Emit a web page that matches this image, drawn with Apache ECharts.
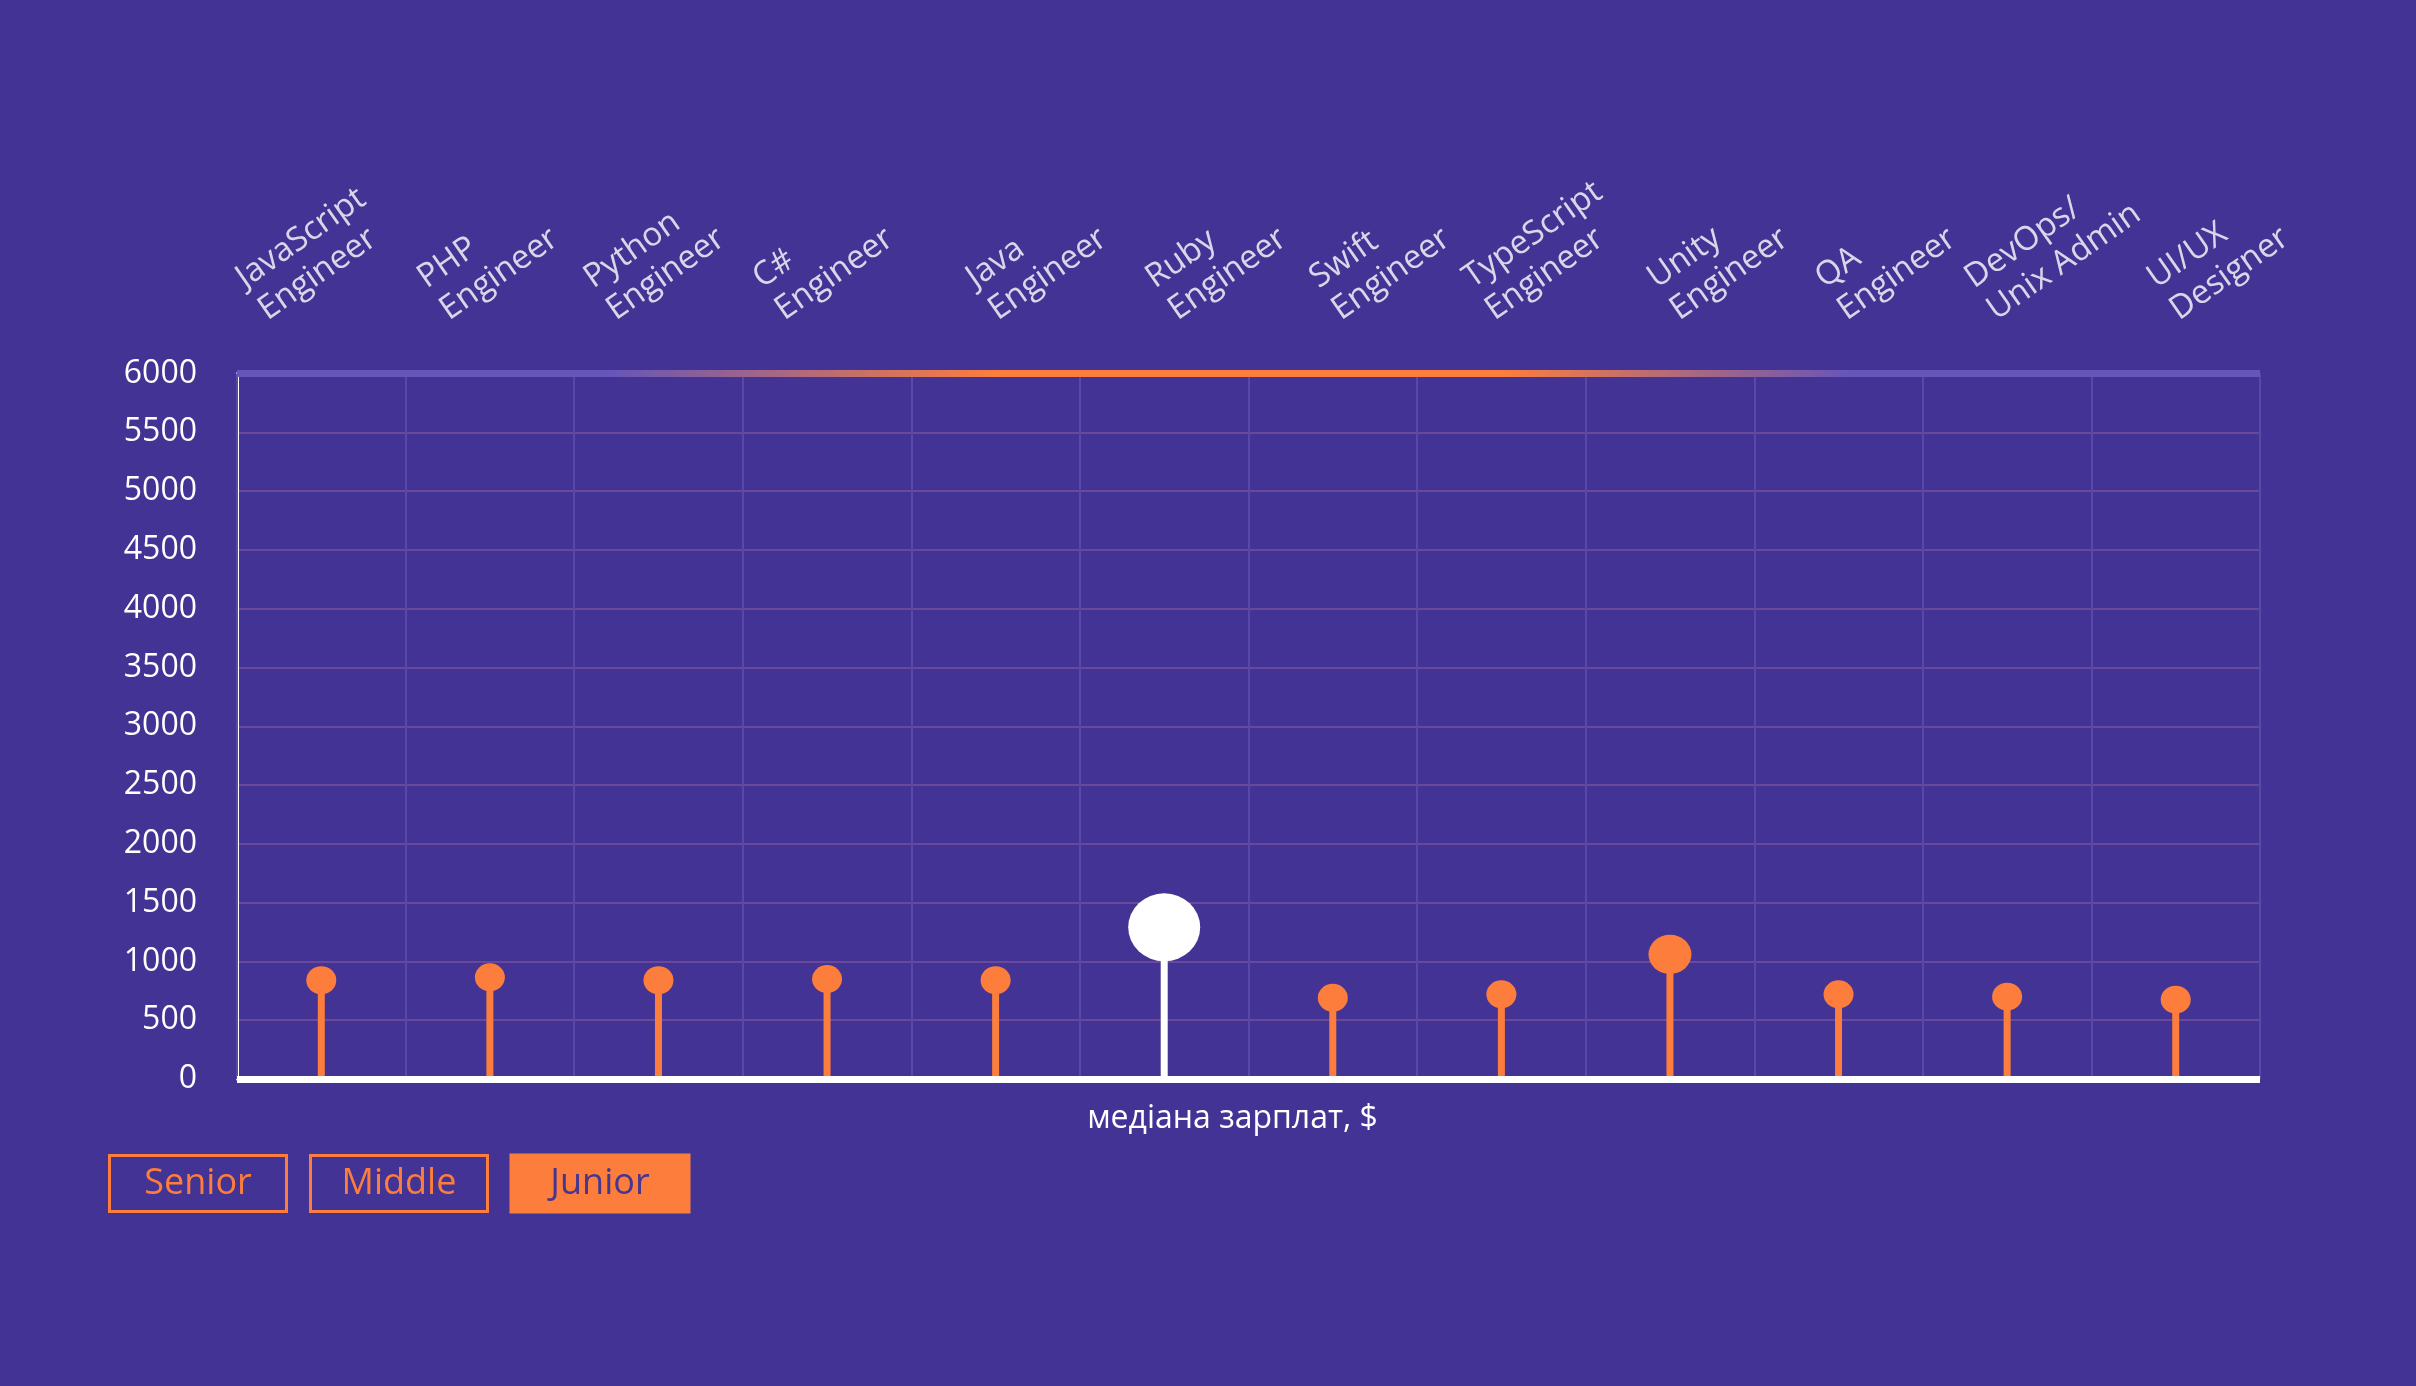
<!DOCTYPE html>
<html>
<head>
<meta charset="utf-8">
<script src="https://cdn.jsdelivr.net/npm/echarts@6/dist/echarts.min.js"></script>
<style>
html,body{margin:0;padding:0;background:#433394;}
#chart{width:2416px;height:1386px;}
</style>
</head>
<body>
<div id="chart"></div>
<script>
// ---- data ----
const categories = [
  'JavaScript\nEngineer', 'PHP\nEngineer', 'Python\nEngineer', 'C#\nEngineer',
  'Java\nEngineer', 'Ruby\nEngineer', 'Swift\nEngineer', 'TypeScript\nEngineer',
  'Unity\nEngineer', 'QA\nEngineer', 'DevOps/\nUnix Admin', 'UI/UX\nDesigner'
];
const juniorMedian = [840, 865, 840, 850, 840, 1290, 690, 720, 1060, 720, 700, 675];
const yMin = 0;
const yMax = 6000;
const yStep = 500;
const levels = ['Senior', 'Middle', 'Junior'];
const activeLevel = 'Junior';
const axisTitle = 'медіана зарплат, $';

// ---- styles ----
const BG = '#433394';
const ORANGE = '#fd7e3c';
const BAR_PURPLE = '#6656b9';
const FONT = 'Open Sans';
const highlighted = 'Ruby\nEngineer';
const headSizes = { 'Ruby\nEngineer': [72, 68], 'Unity\nEngineer': [43, 39] };
const defaultHead = [30, 28];
// horizontal nudges of the rotated category labels (px)
const labelShiftX = [-48, -35, -37, -37, 8, 19, 14, -1, 15, 14, -5, 9];
const labelRise = -44.5;
const ROT = 35;

const rad = ROT * Math.PI / 180;
const cs = Math.cos(rad), sn = Math.sin(rad);
function localOffset(gx, gy) {
  return [gx * cs - gy * sn, gx * sn + gy * cs];
}

const chart = echarts.init(document.getElementById('chart'), null, { renderer: 'canvas' });

const topGradient = {
  type: 'linear', x: 0, y: 0, x2: 1, y2: 0,
  colorStops: [
    { offset: 0, color: BAR_PURPLE },
    { offset: 0.185, color: BAR_PURPLE },
    { offset: 0.377, color: ORANGE },
    { offset: 0.624, color: ORANGE },
    { offset: 0.797, color: BAR_PURPLE },
    { offset: 1, color: BAR_PURPLE }
  ]
};

const option = {
  backgroundColor: BG,
  animation: false,
  grid: { left: 237, right: 156, top: 373.5, bottom: 307, containLabel: false },
  legend: {
    data: levels,
    left: 104.5,
    top: 1153.5,
    padding: 0,
    itemGap: 17.5,
    itemWidth: 0,
    itemHeight: 0,
    selectedMode: false,
    formatter: n => '{' + (n === activeLevel ? 'on' : 'off') + '|' + n + '}',
    textStyle: {
      rich: {
        off: {
          width: 177, height: 56, lineHeight: 56, align: 'center', verticalAlign: 'middle',
          fontSize: 36, fontFamily: FONT, color: ORANGE,
          borderColor: ORANGE, borderWidth: 3
        },
        on: {
          width: 177, height: 56, lineHeight: 56, align: 'center', verticalAlign: 'middle',
          fontSize: 36, fontFamily: FONT, color: '#47368f',
          backgroundColor: ORANGE, borderColor: ORANGE, borderWidth: 2
        }
      }
    }
  },
  xAxis: [
    {
      type: 'category',
      data: categories,
      position: 'bottom',
      boundaryGap: true,
      z: 5,
      axisLine: { lineStyle: { color: '#ffffff', width: 7, cap: 'butt' } },
      axisTick: { show: false },
      axisLabel: { show: false },
      splitLine: { show: true, interval: 0, lineStyle: { color: '#5a48a8', width: 2 } },
      name: axisTitle,
      nameLocation: 'middle',
      nameGap: 24,
      nameTextStyle: { color: '#ffffff', fontSize: 32, fontFamily: FONT, padding: [0, 32, 0, 0] }
    },
    {
      type: 'category',
      data: categories,
      position: 'top',
      boundaryGap: true,
      z: 5,
      axisLine: { lineStyle: { color: topGradient, width: 7, cap: 'butt' } },
      axisTick: { show: false },
      axisLabel: { show: false },
      splitLine: { show: false }
    }
  ],
  yAxis: {
    type: 'value',
    min: yMin,
    max: yMax,
    interval: yStep,
    axisLine: { show: true, lineStyle: { color: '#ffffff', width: 3 } },
    axisTick: { show: false },
    axisLabel: {
      color: '#ffffff', fontSize: 32, fontFamily: FONT, margin: 40,
      padding: [9, 0, 0, 0], formatter: v => String(v)
    },
    splitLine: { show: true, lineStyle: { color: '#6c4898', width: 2 } }
  },
  series: [
    {
      name: 'Junior',
      type: 'bar',
      barWidth: 7,
      silent: true,
      data: juniorMedian.map((v, i) => ({
        value: v,
        itemStyle: { color: categories[i] === highlighted ? '#ffffff' : ORANGE }
      }))
    },
    {
      name: 'Junior',
      type: 'scatter',
      symbol: 'circle',
      silent: true,
      data: juniorMedian.map((v, i) => ({
        value: [i, v],
        symbolSize: headSizes[categories[i]] || defaultHead,
        itemStyle: { color: categories[i] === highlighted ? '#ffffff' : ORANGE, opacity: 1 }
      }))
    },
    { name: 'Senior', type: 'scatter', data: [] },
    { name: 'Middle', type: 'scatter', data: [] },
    {
      name: 'categoryLabels',
      type: 'scatter',
      xAxisIndex: 1,
      silent: true,
      symbolSize: 1,
      itemStyle: { color: 'rgba(0,0,0,0)' },
      label: {
        show: true,
        position: 'inside',
        rotate: ROT,
        align: 'left',
        verticalAlign: 'bottom',
        color: '#ffffff',
        fontSize: 33,
        lineHeight: 39,
        fontFamily: FONT,
        formatter: p => categories[p.dataIndex]
      },
      data: categories.map((c, i) => ({
        value: [i, yMax],
        label: { offset: localOffset(labelShiftX[i], labelRise) }
      }))
    }
  ]
};

chart.setOption(option);
</script>
</body>
</html>
